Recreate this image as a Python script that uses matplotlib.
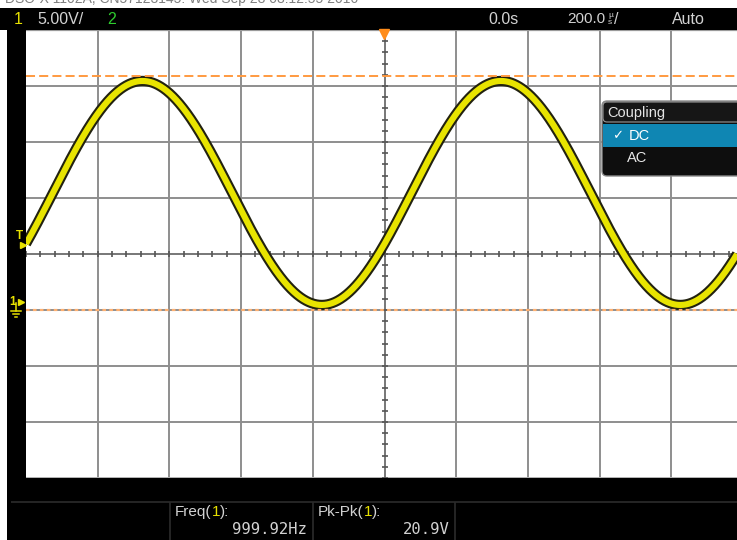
import numpy as np
import matplotlib
matplotlib.use("Agg")
import matplotlib.pyplot as plt
from matplotlib.patches import Rectangle, FancyBboxPatch

plt.rcParams['lines.scale_dashes'] = False

volts_per_div = 5.0          # V/div
time_per_div_us = 200.0      # us/div
freq_hz = 999.92             # measured frequency
pk_pk_v = 20.9               # measured peak-peak
trace_amplitude_v = 10.0     # centre-line amplitude of the trace
trace_offset_v = 10.45       # DC level of the trace (above ground)
trace_peak_time_us = -675.0  # time of the first crest
cursor_max_v = 20.9          # upper orange cursor
cursor_min_v = 0.0           # lower orange cursor (ground level)
screen_centre_v = 5.0        # ground marker sits 1 div below centre
header_labels = ["1", "5.00V/", "2", "0.0s", "200.0", "Auto"]
meas_names = ["Freq", "Pk-Pk"]
meas_values = ["999.92Hz", "20.9V"]
menu_title = "Coupling"
menu_items = ["DC", "AC"]
top_caption = "DSO-X 1102A, CN57123145: Wed Sep 28 08:12:55 2016"

W, H = 737, 540
fig = plt.figure(figsize=(W / 100, H / 100), dpi=100)
fig.patch.set_facecolor("white")

# ---------------- main graticule axes ----------------
left_px, right_px, top_px, bot_px = 26, 737, 30, 478
div_px = 71.7
ax = fig.add_axes([left_px / W, 1 - bot_px / H, (right_px - left_px) / W, (bot_px - top_px) / H])
ax.set_facecolor("white")
ax.set_xlim(-5, -5 + (right_px - left_px) / div_px)
ax.set_ylim(screen_centre_v - 4 * volts_per_div, screen_centre_v + 4 * volts_per_div)
ax.axis("off")

grid_c = "#8e8e8e"
for i in range(-4, 5):
    ax.axvline(i, color=grid_c, lw=1.4, zorder=1)
for k in range(-3, 4):
    ax.axhline(screen_centre_v + k * volts_per_div, color=grid_c, lw=1.4, zorder=1)
ax.axhline(screen_centre_v + 4 * volts_per_div, color="#9a9a9a", lw=1.6, zorder=1)
ax.axhline(screen_centre_v - 4 * volts_per_div, color="#b0b0b0", lw=1.4, zorder=1)

# centre-line minor ticks
xt = np.arange(-5, 5.001, 0.2)
ax.plot(xt, np.full_like(xt, screen_centre_v), ls="none", marker="|", ms=5, mew=1.2,
        color="#555555", zorder=2)
yt = np.arange(screen_centre_v - 20, screen_centre_v + 20.01, 1.0)
ax.plot(np.zeros_like(yt), yt, ls="none", marker="_", ms=5, mew=1.2, color="#555555", zorder=2)
ax.axhline(screen_centre_v, color="#7a7a7a", lw=1.4, zorder=1)
ax.axvline(0, color="#7a7a7a", lw=1.4, zorder=1)

# trace
t_us = np.linspace(-1000, 1000, 3000)
v = trace_offset_v + trace_amplitude_v * np.cos(2 * np.pi * freq_hz * 1e-6 * (t_us - trace_peak_time_us))
ax.plot(t_us / time_per_div_us, v, color="#22220f", lw=7.4, zorder=3, solid_capstyle="butt")
ax.plot(t_us / time_per_div_us, v, color="#e8e400", lw=4.4, zorder=4, solid_capstyle="butt")

# cursors
ax.axhline(cursor_max_v, color="#ff9a40", lw=1.4, dashes=(6.5, 3.0), zorder=5)
ax.axhline(cursor_min_v, color="#ffb070", lw=1.6, dashes=(2.6, 2.4), zorder=5)

# ---------------- overlay in pixel coordinates ----------------
ov = fig.add_axes([0, 0, 1, 1], zorder=10)
ov.set_xlim(0, W)
ov.set_ylim(H, 0)
ov.axis("off")
ov.patch.set_alpha(0)

ov.add_patch(Rectangle((0, 8), W, 22, fc="black", ec="none"))
ov.add_patch(Rectangle((7, 30), 19, 448, fc="black", ec="none"))
ov.add_patch(Rectangle((7, 478), W, 62, fc="black", ec="none"))
ov.plot([12, W], [502, 502], color="#262626", lw=1.4)
for xs in [170, 313, 455]:
    ov.plot([xs, xs], [503, H], color="#2c2c2c", lw=1.2)

ov.text(5, 3.5, top_caption, color="#808080", fontsize=10, family="Liberation Sans",
        va="baseline", ha="left")

hdr_font = dict(family="Liberation Sans", fontsize=11.5, va="center", ha="left")
gray = "#d2d2d2"
ov.text(14, 19, header_labels[0], color="#e6e000", **hdr_font)
ov.text(37, 19, header_labels[1], color=gray, **hdr_font)
ov.text(107, 19, header_labels[2], color="#2ecc2e", **hdr_font)
ov.text(488, 19, header_labels[3], color=gray, **hdr_font)
ov.text(567, 19, header_labels[4], color=gray, fontsize=11, family="Liberation Sans",
        va="center", ha="left")
ov.text(608, 19, "µ\ns", color=gray, family="Liberation Sans", fontsize=6.0, va="center",
        ha="left", linespacing=0.85)
ov.text(614, 19, "/", color=gray, **hdr_font)
ov.text(672, 19, header_labels[5], color=gray, **hdr_font)

# trigger marker
ov.plot([384], [34], marker="v", ms=7, color="#ff8c1a", mec="#ff8c1a")

# left markers
yel = "#e6e000"
ov.text(19, 236, "T", color=yel, fontsize=8.5, family="Liberation Sans", ha="center", va="center",
        fontweight="bold")
ov.plot([23], [245], marker=">", ms=5, color=yel)
ov.text(13, 302, "1", color=yel, fontsize=8.5, family="Liberation Sans", ha="center", va="center",
        fontweight="bold")
ov.plot([21.5], [302], marker=">", ms=5, color=yel)
ov.plot([16, 16], [303, 311], color=yel, lw=1.1)
ov.plot([11, 21], [311, 311], color=yel, lw=1.1)
ov.plot([13, 19], [314, 314], color=yel, lw=1.1)
ov.plot([15, 17], [317, 317], color=yel, lw=1.1)

# measurement boxes (chained coloured segments)
fig.canvas.draw()
renderer = fig.canvas.get_renderer()


def chain(x, y, parts, **kw):
    for s, c in parts:
        t = ov.text(x, y, s, color=c, **kw)
        bb = t.get_window_extent(renderer)
        x = bb.x1


mfont = dict(family="Liberation Sans", fontsize=11, va="center", ha="left")
chain(175, 512, [(meas_names[0] + "(", gray), ("1", yel), ("):", gray)], **mfont)
chain(318, 512, [(meas_names[1] + "(", gray), ("1", yel), ("):", gray)], **mfont)
vfont = dict(family="DejaVu Sans Mono", fontsize=11.2, va="center", ha="right", color=gray)
ov.text(307, 530, meas_values[0], **vfont)
ov.text(450, 530, meas_values[1], **vfont)

# coupling menu
ov.add_patch(FancyBboxPatch((602, 101), 150, 75, boxstyle="round,pad=0,rounding_size=5",
                            fc="#0e0e0e", ec="#8a8a8a", lw=1.0))
ov.add_patch(FancyBboxPatch((603, 102), 150, 20, boxstyle="round,pad=0,rounding_size=4",
                            fc="#161616", ec="#9a9a9a", lw=0.8))
ov.add_patch(Rectangle((603, 124), 140, 23, fc="#0f86b3", ec="none"))
ov.text(607, 112.5, menu_title, color="#e4e4e4", family="Liberation Sans", fontsize=10.5,
        va="center", ha="left")
ov.text(612, 136, "✓", color="white", family="DejaVu Sans", fontsize=9.5, va="center", ha="left")
ov.text(629, 136, menu_items[0], color="white", family="Liberation Sans", fontsize=10.5,
        va="center", ha="left")
ov.text(627, 158, menu_items[1], color="#e8e8e8", family="Liberation Sans", fontsize=10.5,
        va="center", ha="left")

fig.savefig("out.png", dpi=100)
